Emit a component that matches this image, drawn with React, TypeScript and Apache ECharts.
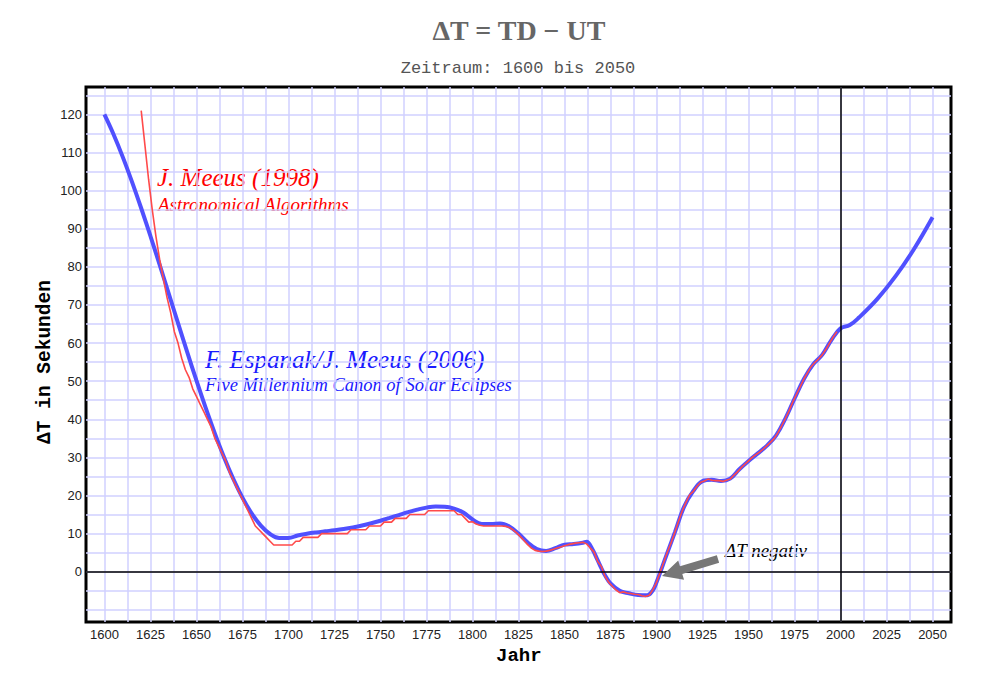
import React, { useEffect, useRef } from "react";
import * as echarts from "echarts";

// Espenak/Meeus (2006)
const blueYears = [
  1600, 1605, 1610, 1615, 1620, 1625, 1630, 1635, 1640, 1645, 1650, 1655, 1660, 1665, 1670, 1675, 1680, 1685, 1690, 1695, 1700,
  1705, 1710, 1715, 1720, 1725, 1730, 1735, 1740, 1745, 1750, 1755, 1760, 1765, 1770, 1775, 1780, 1785, 1790, 1795, 1800,
  1805, 1810, 1815, 1820, 1825, 1830, 1835, 1840, 1845, 1850, 1855, 1860,
  1862, 1865, 1868, 1870, 1872, 1875, 1880, 1885, 1890, 1895, 1898, 1900,
  1905, 1910, 1915, 1920, 1925, 1930, 1935, 1940, 1945, 1950, 1955, 1960, 1965, 1970, 1975, 1980, 1985, 1990, 1995, 2000,
  2005, 2010, 2020, 2030, 2040, 2050,
];
const blueValues = [
  120, 114.73, 108.8, 102.31, 95.38, 88.1, 80.58, 72.92, 65.23, 57.62, 50.19, 43.05, 36.3, 30.04, 24.39, 19.44, 15.31, 12.09, 9.9, 8.83, 8.83,
  9.5, 9.96, 10.31, 10.6, 10.88, 11.21, 11.62, 12.11, 12.7, 13.37, 14.11, 14.87, 15.62, 16.29, 16.82, 17.1, 17.06, 16.57, 15.52, 13.72,
  12.54, 12.5, 12.63, 11.86, 10.0, 7.67, 5.93, 5.44, 6.16, 7.1, 7.27, 7.62,
  7.89, 6.03, 3.01, 0.94, -0.92, -3.09, -5.01, -5.66, -6.12, -6.18, -4.89, -2.79,
  3.83, 10.39, 17.09, 21.2, 23.78, 24.13, 23.82, 24.41, 26.88, 29.07, 31.05, 33.1, 35.79, 40.19, 45.45, 50.52, 54.34, 56.89, 60.8, 63.86,
  64.72, 66.7, 71.6, 77.62, 84.75, 93.0,
];

// J. Meeus (1998) – tabulated every 2 years from 1620 to 1998
const redStartYear = 1620;
const redStep = 2;
const redValues = [
  121, 112, 103, 95, 88, 82, 77, 72, 68, 63, 60, 56, 53, 51, 48, 46, 44, 42, 40, 38,
  35, 33, 31, 29, 26, 24, 22, 20, 18, 16, 14, 12, 11, 10, 9, 8, 7, 7, 7, 7,
  7, 7, 8, 8, 9, 9, 9, 9, 9, 10, 10, 10, 10, 10, 10, 10, 10, 11, 11, 11,
  11, 11, 12, 12, 12, 12, 13, 13, 13, 14, 14, 14, 14, 15, 15, 15, 15, 15, 16, 16,
  16, 16, 16, 16, 16, 16, 15, 15, 14, 13, 13.1, 12.5, 12.2, 12.0, 12.0, 12.0, 12.0, 12.0, 12.0, 11.9,
  11.6, 11.0, 10.2, 9.2, 8.2, 7.1, 6.2, 5.6, 5.4, 5.3, 5.4, 5.6, 5.9, 6.2, 6.5, 6.8, 7.1, 7.3, 7.5, 7.6,
  7.7, 7.3, 6.2, 5.2, 2.7, 1.4, -1.2, -2.8, -3.8, -4.8, -5.5, -5.3, -5.6, -5.7, -5.9, -6.0, -6.3, -6.5, -6.2, -4.7,
  -2.8, -0.1, 2.6, 5.3, 7.7, 10.4, 13.3, 16.0, 18.2, 20.2, 21.1, 22.4, 23.5, 23.8, 24.3, 24.0, 23.9, 23.9, 23.7, 24.0,
  24.3, 25.3, 26.2, 27.3, 28.2, 29.1, 30.0, 30.7, 31.4, 32.2, 33.1, 34.0, 35.0, 36.5, 38.3, 40.2, 42.2, 44.5, 46.5, 48.5,
  50.5, 52.2, 53.8, 54.9, 55.8, 56.9, 58.3, 60.0, 61.6, 63.0,
];

const xLabelValues = [1600, 1625, 1650, 1675, 1700, 1725, 1750, 1775, 1800, 1825, 1850, 1875, 1900, 1925, 1950, 1975, 2000, 2025, 2050];
const xGridValues = [
  1600, 1612.5, 1625, 1637.5, 1650, 1662.5, 1675, 1687.5, 1700, 1712.5, 1725, 1737.5, 1750, 1762.5, 1775, 1787.5,
  1800, 1812.5, 1825, 1837.5, 1850, 1862.5, 1875, 1887.5, 1900, 1912.5, 1925, 1937.5, 1950, 1962.5, 1975, 1987.5,
  2000, 2012.5, 2025, 2037.5, 2050,
];
const yLabelValues = [0, 10, 20, 30, 40, 50, 60, 70, 80, 90, 100, 110, 120];
const yGridValues = [-10, -5, 0, 5, 10, 15, 20, 25, 30, 35, 40, 45, 50, 55, 60, 65, 70, 75, 80, 85, 90, 95, 100, 105, 110, 115, 120, 125];

const titleText = "ΔT = TD − UT";
const subtitleText = "Zeitraum: 1600 bis 2050";
const xName = "Jahr";
const yName = "ΔT in Sekunden";

const SERIF = "'Liberation Serif', 'Times New Roman', serif";
const MONO = "'Liberation Mono', 'Courier New', monospace";
const SANS = "'Liberation Sans', Arial, sans-serif";

export default function App() {
  const ref = useRef<HTMLDivElement>(null);

  useEffect(() => {
    if (!ref.current) return;
    const chart = echarts.init(ref.current, undefined, { renderer: "svg" });

    const blueData = blueYears.map((y, i) => [y, blueValues[i]]);
    const redData = redValues.map((v, i) => [redStartYear + i * redStep, v]);

    // arrow geometry (pixel)
    const tip = [662, 576];
    const tail = [718, 559];
    const dx = tip[0] - tail[0];
    const dy = tip[1] - tail[1];
    const len = Math.sqrt(dx * dx + dy * dy);
    const ux = dx / len, uy = dy / len;
    const nx = -uy, ny = ux;
    const sw = 4, hw = 10, hl = 20;
    const bx = tip[0] - hl * ux, by = tip[1] - hl * uy;
    const arrowPts = [
      [tail[0] + sw * nx, tail[1] + sw * ny],
      [bx + sw * nx, by + sw * ny],
      [bx + hw * nx, by + hw * ny],
      tip,
      [bx - hw * nx, by - hw * ny],
      [bx - sw * nx, by - sw * ny],
      [tail[0] - sw * nx, tail[1] - sw * ny],
    ];

    chart.setOption({
      animation: false,
      backgroundColor: "#ffffff",
      title: [
        {
          text: titleText,
          left: 514,
          top: 11,
          textAlign: "center",
          textStyle: { fontFamily: SERIF, fontWeight: "bold", fontSize: 28, color: "#666666" },
        },
        {
          text: subtitleText,
          left: 513,
          top: 55,
          textAlign: "center",
          textStyle: { fontFamily: MONO, fontWeight: "normal", fontSize: 17, color: "#555555" },
        },
      ],
      grid: {
        left: 86,
        right: 49,
        top: 87,
        bottom: 57,
        show: true,
        borderColor: "#000000",
        borderWidth: 3,
        backgroundColor: "transparent",
        containLabel: false,
      },
      xAxis: {
        type: "value",
        min: 1590,
        max: 2060,
        axisLine: { show: false },
        axisTick: { show: false, customValues: xGridValues },
        axisLabel: {
          customValues: xLabelValues,
          formatter: (v: number) => String(v),
          fontFamily: SANS,
          fontSize: 13,
          color: "#222222",
          margin: 6,
        },
        splitLine: { show: true, lineStyle: { color: "#d0d0ff", width: 1.5 } },
      },
      yAxis: {
        type: "value",
        min: -13.2,
        max: 127.2,
        axisLine: { show: false },
        axisTick: { show: false, customValues: yGridValues },
        axisLabel: {
          customValues: yLabelValues,
          formatter: (v: number) => String(v),
          fontFamily: SANS,
          fontSize: 13,
          color: "#222222",
          margin: 4,
        },
        splitLine: { show: true, lineStyle: { color: "#d0d0ff", width: 1.5 } },
      },
      series: [
        {
          type: "line",
          name: "Espenak/Meeus 2006",
          data: blueData,
          smooth: 0.4,
          showSymbol: false,
          symbol: "none",
          z: 3,
          lineStyle: { color: "#5050ff", width: 4 },
          markLine: {
            silent: true,
            symbol: "none",
            label: { show: false },
            lineStyle: { color: "#000000", width: 1.5, type: "solid" },
            data: [{ yAxis: 0 }, { xAxis: 2000 }],
          },
        },
        {
          type: "line",
          name: "Meeus 1998",
          data: redData,
          showSymbol: false,
          symbol: "none",
          z: 4,
          lineStyle: { color: "#ff4a4a", width: 1.6 },
        },
      ],
      graphic: [
        {
          type: "text",
          left: 157,
          top: 165,
          style: { text: "J. Meeus (1998)", fill: "#ff0000", font: `italic 25px ${SERIF}` },
        },
        {
          type: "text",
          left: 158,
          top: 195,
          style: { text: "Astronomical Algorithms", fill: "#ff0000", font: `italic 19px ${SERIF}` },
        },
        {
          type: "text",
          left: 205,
          top: 347,
          style: { text: "F. Espanak/J. Meeus (2006)", fill: "#1a1aff", font: `italic 25px ${SERIF}` },
        },
        {
          type: "text",
          left: 205,
          top: 375,
          style: { text: "Five Millennium Canon of Solar Eclipses", fill: "#1a1aff", font: `italic 18.5px ${SERIF}` },
        },
        {
          type: "text",
          left: 725,
          top: 541,
          style: { text: "ΔT negativ", fill: "#000000", font: `italic 19px ${SERIF}` },
        },
        {
          type: "polygon",
          shape: { points: arrowPts },
          style: { fill: "#777777" },
          z: 10,
        },
        {
          type: "text",
          left: 496,
          top: 646,
          style: { text: xName, fill: "#000000", font: `bold 19px ${MONO}` },
        },
        {
          type: "text",
          x: 45,
          y: 362,
          rotation: Math.PI / 2,
          style: {
            text: yName,
            fill: "#000000",
            font: `bold 19.5px ${MONO}`,
            align: "center",
            verticalAlign: "middle",
          },
        },
      ],
    });

    return () => {
      chart.dispose();
    };
  }, []);

  return (
    <div
      ref={ref}
      style={{ position: "absolute", left: 0, top: 0, width: 1000, height: 679 }}
    />
  );
}
